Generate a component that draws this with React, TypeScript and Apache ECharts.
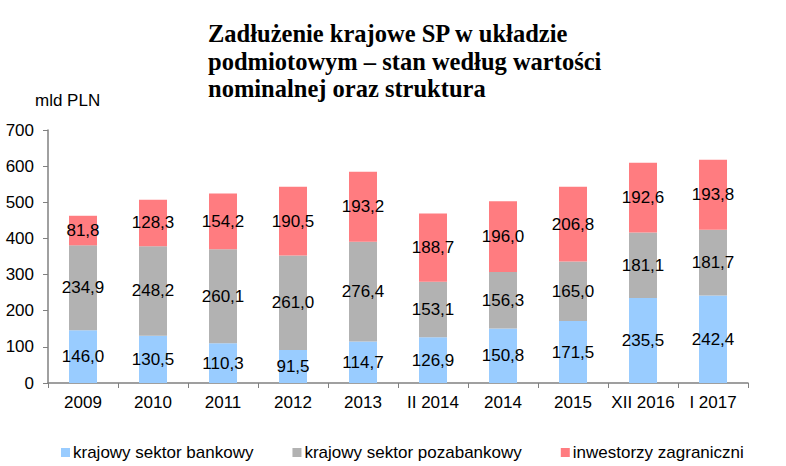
import React, { useEffect, useRef } from "react";
import * as echarts from "echarts";

const categories = ["2009", "2010", "2011", "2012", "2013", "II 2014", "2014", "2015", "XII 2016", "I 2017"];
const bankowy = [146.0, 130.5, 110.3, 91.5, 114.7, 126.9, 150.8, 171.5, 235.5, 242.4];
const pozabankowy = [234.9, 248.2, 260.1, 261.0, 276.4, 153.1, 156.3, 165.0, 181.1, 181.7];
const zagraniczni = [81.8, 128.3, 154.2, 190.5, 193.2, 188.7, 196.0, 206.8, 192.6, 193.8];
const seriesNames = ["krajowy sektor bankowy", "krajowy sektor pozabankowy", "inwestorzy zagraniczni"];
const colors = ["#99CCFF", "#B2B2B2", "#FF7C80"];

const fmt = (v: number) => v.toFixed(1).replace(".", ",");

export default function App() {
  const ref = useRef<HTMLDivElement>(null);
  useEffect(() => {
    document.body.style.margin = "0";
    const chart = echarts.init(ref.current!, undefined, { renderer: "svg" });
    const data = [bankowy, pozabankowy, zagraniczni];
    chart.setOption({
      animation: false,
      title: {
        text: "Zadłużenie krajowe SP w układzie\npodmiotowym – stan według wartości\nnominalnej oraz struktura",
        left: 203,
        top: 15,
        textStyle: {
          fontFamily: "Liberation Serif",
          fontWeight: "bold",
          fontSize: 24.5,
          lineHeight: 27.5,
          color: "#000",
        },
      },
      graphic: [
        {
          type: "text",
          left: 35,
          top: 92,
          style: { text: "mld PLN", fontFamily: "Liberation Sans", fontSize: 17, fill: "#000" },
        },
      ],
      legend: {
        left: 56,
        top: 439,
        itemWidth: 9,
        itemHeight: 9,
        itemGap: 39,
        icon: "rect",
        textStyle: { fontFamily: "Liberation Sans", fontSize: 17, color: "#000", padding: [0, 0, 0, -2] },
        data: seriesNames,
      },
      grid: { left: 48, right: 38, top: 130, bottom: 83 },
      xAxis: {
        type: "category",
        data: categories,
        axisLine: { lineStyle: { color: "#808080", width: 1.5 } },
        axisTick: { show: true, lineStyle: { color: "#808080" }, length: 5 },
        axisLabel: { interval: 0, fontFamily: "Liberation Sans", fontSize: 17, color: "#000", margin: 11 },
      },
      yAxis: {
        type: "value",
        min: 0,
        max: 700,
        interval: 100,
        splitLine: { show: false },
        axisLine: { show: true, lineStyle: { color: "#808080", width: 1.5 } },
        axisTick: { show: true, lineStyle: { color: "#808080" }, length: 5 },
        axisLabel: { fontFamily: "Liberation Sans", fontSize: 17, color: "#000", margin: 14 },
      },
      series: data.map((d, i) => ({
        name: seriesNames[i],
        type: "bar",
        stack: "total",
        barWidth: 28,
        data: d,
        itemStyle: { color: colors[i] },
        label: {
          show: true,
          position: "inside",
          fontFamily: "Liberation Sans",
          fontSize: 17,
          color: "#000",
          formatter: (p: any) => fmt(p.value),
        },
      })),
    });
    return () => chart.dispose();
  }, []);
  return <div ref={ref} style={{ width: 786, height: 466 }} />;
}
